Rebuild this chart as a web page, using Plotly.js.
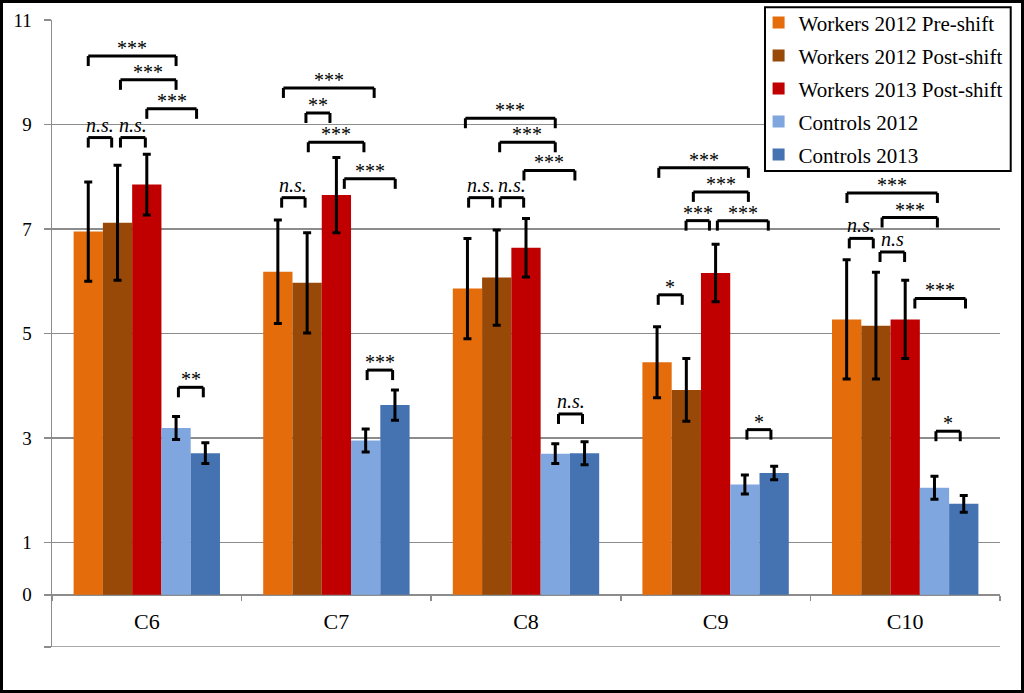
<!DOCTYPE html>
<html>
<head>
<meta charset="utf-8">
<script src="https://cdn.plot.ly/plotly-3.0.1.min.js"></script>
<style>
html, body { margin: 0; padding: 0; background: #fff; }
#chart { width: 1024px; height: 693px; box-sizing: border-box; border: 3px solid #000; }
</style>
</head>
<body>
<div id="chart"></div>
<script>
// ---- data ----
var categories = ['C6', 'C7', 'C8', 'C9', 'C10'];
var seriesNames = ['Workers 2012 Pre-shift', 'Workers 2012 Post-shift', 'Workers 2013 Post-shift', 'Controls 2012', 'Controls 2013'];
var workers2012Pre = [6.95, 6.18, 5.86, 4.45, 5.27];
var workers2012PreErr = [0.95, 0.99, 0.96, 0.68, 1.14];
var workers2012Post = [7.12, 5.97, 6.07, 3.92, 5.15];
var workers2012PostErr = [1.10, 0.96, 0.91, 0.60, 1.02];
var workers2013Post = [7.85, 7.65, 6.64, 6.16, 5.27];
var workers2013PostErr = [0.58, 0.72, 0.56, 0.55, 0.75];
var controls2012 = [3.19, 2.95, 2.70, 2.11, 2.05];
var controls2012Err = [0.22, 0.22, 0.19, 0.18, 0.22];
var controls2013 = [2.71, 3.63, 2.71, 2.33, 1.74];
var controls2013Err = [0.20, 0.29, 0.22, 0.13, 0.16];
var yTickVals = [-1, 0, 1, 3, 5, 7, 9, 11];
var yTickText = ['', '0', '1', '3', '5', '7', '9', '11'];

// significance brackets: category index, from bar slot, to bar slot, level, label
var bracketGroup = [0, 0, 0, 0, 0, 0,  1, 1, 1, 1, 1, 1,  2, 2, 2, 2, 2, 2,  3, 3, 3, 3, 3, 3,  4, 4, 4, 4, 4, 4];
var bracketFrom  = [0, 1.1, 2, 0, 1.1, 3.08,  0.19, 0.96, 1.04, 2.27, 0.13, 3.05,  -0.07, 1.1, 1.93, 0.04, 1.12, 3.11,  0.06, 1.24, 0.99, 2.06, 0.04, 3.07,  0.01, 1.21, 0.09, 1.14, 2.33, 3.05];
var bracketTo    = [3, 3, 3.7, 0.8, 1.95, 3.93,  3.29, 1.78, 2.94, 4.01, 0.93, 3.92,  3.0, 3.0, 3.67, 0.86, 1.92, 3.93,  3.12, 3.12, 1.79, 3.8, 0.86, 3.89,  3.1, 3.1, 0.91, 1.98, 4.06, 3.88];
var bracketLevel = [10.31, 9.855, 9.30, 8.75, 8.75, 3.97,  9.70, 9.22, 8.66, 7.96, 7.60, 4.30,  9.12, 8.66, 8.12, 7.60, 7.60, 3.46,  8.17, 7.71, 7.16, 7.16, 5.74, 3.16,  7.69, 7.22, 6.82, 6.56, 5.67, 3.13];
var bracketLabel = ['***', '***', '***', 'n.s.', 'n.s.', '**',  '***', '**', '***', '***', 'n.s.', '***',  '***', '***', '***', 'n.s.', 'n.s.', 'n.s.',  '***', '***', '***', '***', '*', '*',  '***', '***', 'n.s.', 'n.s', '***', '*'];

// ---- styles ----
var colors = ['#E46C0A', '#984807', '#C00000', '#7FA6DE', '#4573B2'];
var values = [workers2012Pre, workers2012Post, workers2013Post, controls2012, controls2013];
var errors = [workers2012PreErr, workers2012PostErr, workers2013PostErr, controls2012Err, controls2013Err];
var FONT = 'Times New Roman, Times, Liberation Serif, Tinos, DejaVu Serif, serif';
var GRID = '#8C8C8C';
var bargap = 0.228;
var barW = (1 - bargap) / 5;
var yRange = [-1, 11];
var plotH = 693 - 6 - 17 - 43;
var legData = 10 / (plotH / (yRange[1] - yRange[0]));

var traces = seriesNames.map(function (name, i) {
  return {
    type: 'bar',
    name: name,
    x: categories,
    y: values[i],
    marker: { color: colors[i], line: { width: 0 } },
    error_y: { type: 'data', array: errors[i], visible: true, color: '#000', thickness: 3, width: 4 },
    legendgroup: 'g' + i,
    hoverinfo: 'none'
  };
});

var shapes = [
  { type: 'line', xref: 'paper', yref: 'y', x0: -0.008, x1: 1, y0: -1, y1: -1, line: { color: GRID, width: 1.5 } },
  // legend frame
  { type: 'rect', xref: 'paper', yref: 'paper', x0: 0.7521, x1: 1.0113, y0: 0.7592, y1: 1.0203,
    fillcolor: '#fff', line: { color: '#000', width: 2 }, layer: 'above' }
];
var annotations = [];
for (var k = 0; k < bracketGroup.length; k++) {
  var x1 = bracketGroup[k] + (bracketFrom[k] - 2) * barW;
  var x2 = bracketGroup[k] + (bracketTo[k] - 2) * barW;
  var yl = bracketLevel[k];
  var ln = { color: '#000', width: 3 };
  shapes.push({ type: 'line', xref: 'x', yref: 'y', x0: x1, x1: x2, y0: yl, y1: yl, line: ln });
  shapes.push({ type: 'line', xref: 'x', yref: 'y', x0: x1, x1: x1, y0: yl, y1: yl - legData, line: ln });
  shapes.push({ type: 'line', xref: 'x', yref: 'y', x0: x2, x1: x2, y0: yl, y1: yl - legData, line: ln });
  var isStar = bracketLabel[k].indexOf('*') === 0;
  annotations.push({
    xref: 'x', yref: 'y', x: (x1 + x2) / 2, y: yl,
    text: isStar ? bracketLabel[k] : '<i>' + bracketLabel[k] + '</i>',
    showarrow: false, yanchor: 'bottom', xanchor: 'center',
    yshift: isStar ? -5 : 0,
    font: { family: FONT, size: 20, color: '#000' }
  });
}

var layout = {
  width: 1018, height: 687,
  margin: { l: 49, r: 21, t: 17, b: 43, pad: 0, autoexpand: false },
  paper_bgcolor: '#fff', plot_bgcolor: '#fff',
  font: { family: FONT, color: '#000' },
  barmode: 'group', bargap: bargap, bargroupgap: 0,
  showlegend: true,
  legend: {
    x: 1.0080, y: 1.0283, xanchor: 'right', yanchor: 'top',
    bgcolor: 'rgba(0,0,0,0)', borderwidth: 0,
    font: { family: FONT, size: 21, color: '#000' },
    traceorder: 'grouped', tracegroupgap: 2.7,
    itemclick: false, itemdoubleclick: false
  },
  xaxis: {
    type: 'category', anchor: 'free', position: 1 / 12,
    showline: true, linecolor: GRID, linewidth: 1.5,
    ticks: 'outside', tickson: 'boundaries', ticklen: 5, tickcolor: GRID, tickwidth: 1.5,
    showgrid: false, zeroline: false,
    tickfont: { family: FONT, size: 22, color: '#000' },
    ticklabelstandoff: 6
  },
  yaxis: {
    range: yRange, tickmode: 'array', tickvals: yTickVals, ticktext: yTickText,
    showline: true, linecolor: GRID, linewidth: 1.5,
    ticks: 'outside', ticklen: 7, tickcolor: GRID, tickwidth: 1.5,
    showgrid: true, gridcolor: GRID, gridwidth: 1.5, zeroline: false,
    tickfont: { family: FONT, size: 19, color: '#000' },
    ticklabelstandoff: 8
  },
  shapes: shapes,
  annotations: annotations
};

Plotly.newPlot('chart', traces, layout, { staticPlot: true, displayModeBar: false });
</script>
</body>
</html>
